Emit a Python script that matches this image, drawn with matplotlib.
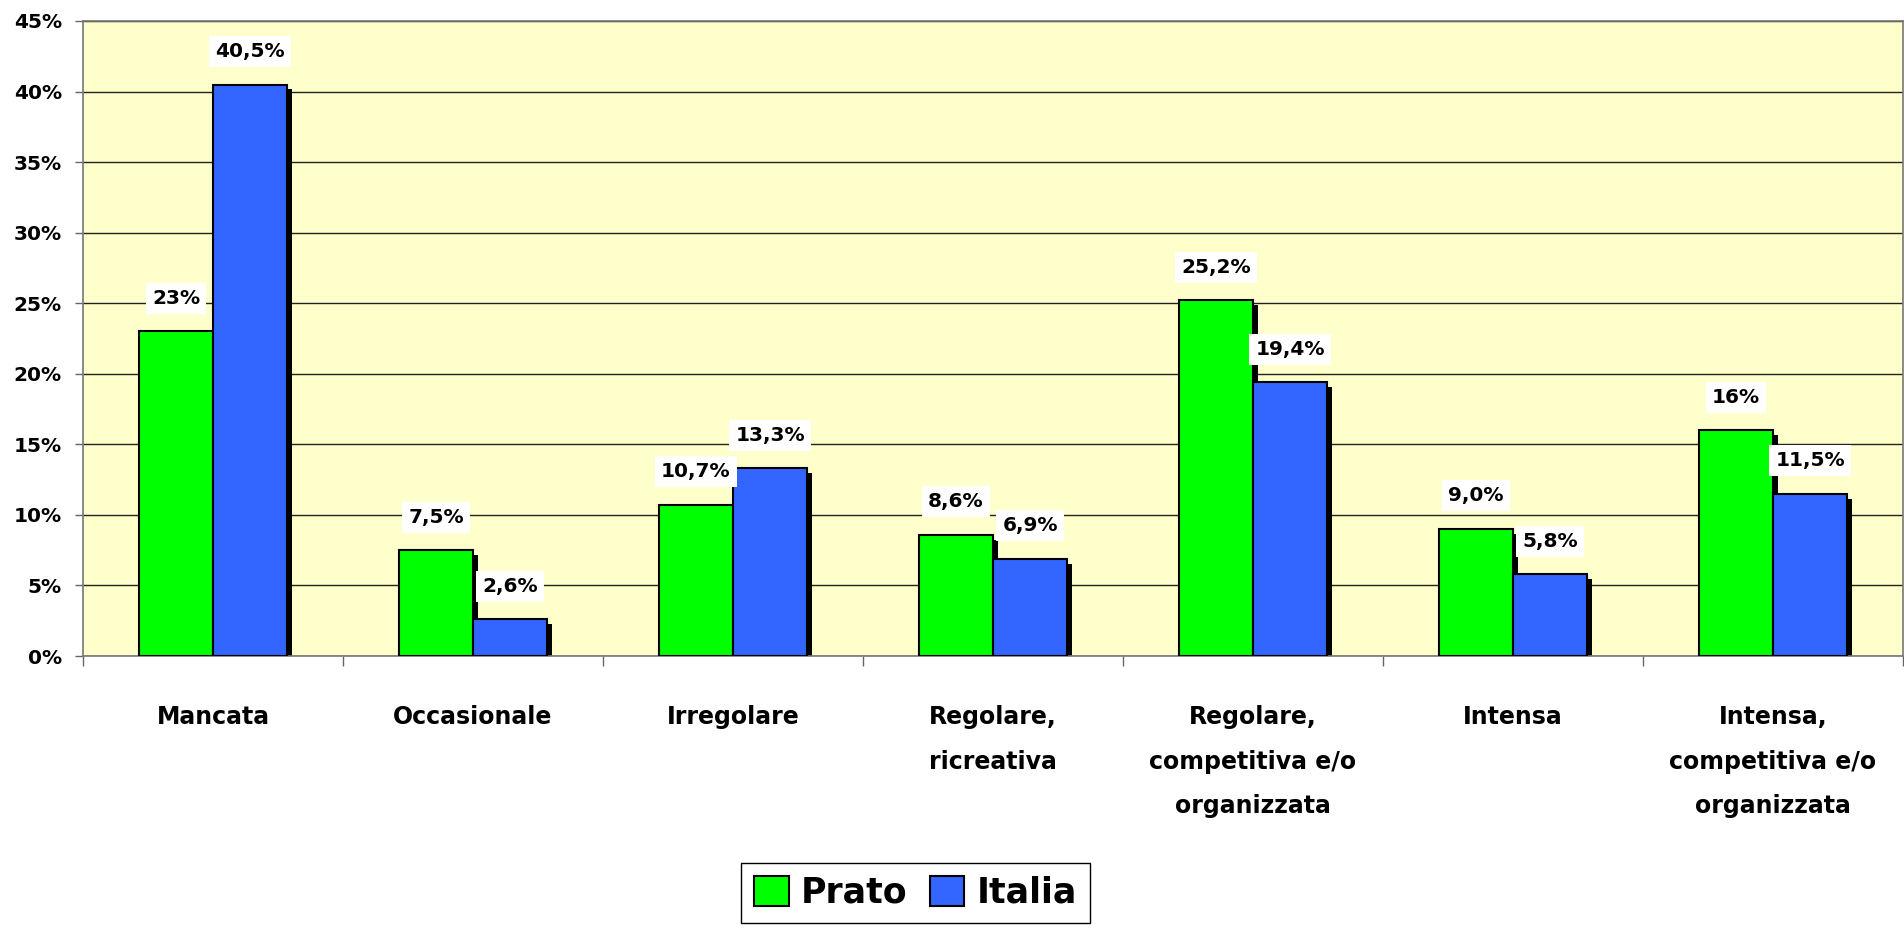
import numpy as np
import matplotlib.pyplot as plt
from matplotlib.patches import Patch
from matplotlib.ticker import PercentFormatter

# chart data
categories = ['Mancata', 'Occasionale', 'Irregolare', 'Regolare,\nricreativa',
              'Regolare,\ncompetitiva e/o\norganizzata', 'Intensa',
              'Intensa,\ncompetitiva e/o\norganizzata']
prato = [23.0, 7.5, 10.7, 8.6, 25.2, 9.0, 16.0]
italia = [40.5, 2.6, 13.3, 6.9, 19.4, 5.8, 11.5]
prato_labels = ['23%', '7,5%', '10,7%', '8,6%', '25,2%', '9,0%', '16%']
italia_labels = ['40,5%', '2,6%', '13,3%', '6,9%', '19,4%', '5,8%', '11,5%']
series_names = ['Prato', 'Italia']
yticks = [0, 5, 10, 15, 20, 25, 30, 35, 40, 45]

plt.rcParams['font.family'] = 'DejaVu Sans'
plt.rcParams['font.weight'] = 'bold'

W, H = 1904, 934
fig = plt.figure(figsize=(W / 100, H / 100), dpi=100)
ax_px = (83, 278, 1820, 635)  # left, bottom, width, height in pixels
ax = fig.add_axes([ax_px[0] / W, ax_px[1] / H, ax_px[2] / W, ax_px[3] / H])
ax.set_facecolor('#FFFFCC')

x = np.arange(len(categories))
w = 0.285
ymax = yticks[-1]
ax.set_xlim(-0.5, len(categories) - 0.5)
ax.set_ylim(0, ymax)

# drop shadow offset (5 px right, 5 px down)
dx = 5 * len(categories) / ax_px[2]
dy = 5 * ymax / ax_px[3]

green, blue = '#00FF00', '#3366FF'
for vals, off in [(prato, -w / 2), (italia, w / 2)]:
    ax.bar(x + off + dx, np.maximum(np.array(vals) - dy, 0), w,
           color='black', linewidth=0, zorder=2)
ax.bar(x - w / 2, prato, w, color=green, edgecolor='black', linewidth=1.5, zorder=3)
ax.bar(x + w / 2, italia, w, color=blue, edgecolor='black', linewidth=1.5, zorder=3)

# value labels
for vals, labs, off in [(prato, prato_labels, -w / 2), (italia, italia_labels, w / 2)]:
    for xi, v, lab in zip(x, vals, labs):
        ax.annotate(lab, (xi + off, v), xytext=(0, 23.8), textcoords='offset points',
                    ha='center', va='center', fontsize=14.5, fontweight='bold',
                    bbox=dict(boxstyle='square,pad=0.3', fc='white', ec='none'),
                    zorder=5)

ax.set_axisbelow(True)
ax.yaxis.grid(True, color='#222222', linewidth=1.0)

ax.set_yticks(yticks)
ax.yaxis.set_major_formatter(PercentFormatter(decimals=0))
ax.tick_params(axis='y', length=5.8, width=1, pad=9.4, labelsize=14.5, color='#666666')

ax.set_xticks(x)
ax.set_xticklabels(categories, fontsize=17, fontweight='bold', linespacing=2.1)
ax.tick_params(axis='x', which='major', length=0, pad=35)
ax.set_xticks(np.arange(-0.5, len(categories), 1), minor=True)
ax.tick_params(axis='x', which='minor', length=7.2, width=1, color='#666666')

for s in ax.spines.values():
    s.set_color('#777777')
    s.set_linewidth(1.2)

handles = [Patch(fc=green, ec='black', lw=1.5), Patch(fc=blue, ec='black', lw=1.5)]
leg = fig.legend(handles, series_names, loc='upper center',
                 bbox_to_anchor=(915.5 / W, 71 / H), ncol=2,
                 prop={'size': 25, 'weight': 'bold'}, frameon=True, fancybox=False,
                 edgecolor='black', framealpha=1, handlelength=1.0, handleheight=0.92,
                 handletextpad=0.35, columnspacing=0.63, borderpad=0.37,
                 borderaxespad=0)
leg.get_frame().set_linewidth(1.0)

fig.savefig('out.png', dpi=100)
